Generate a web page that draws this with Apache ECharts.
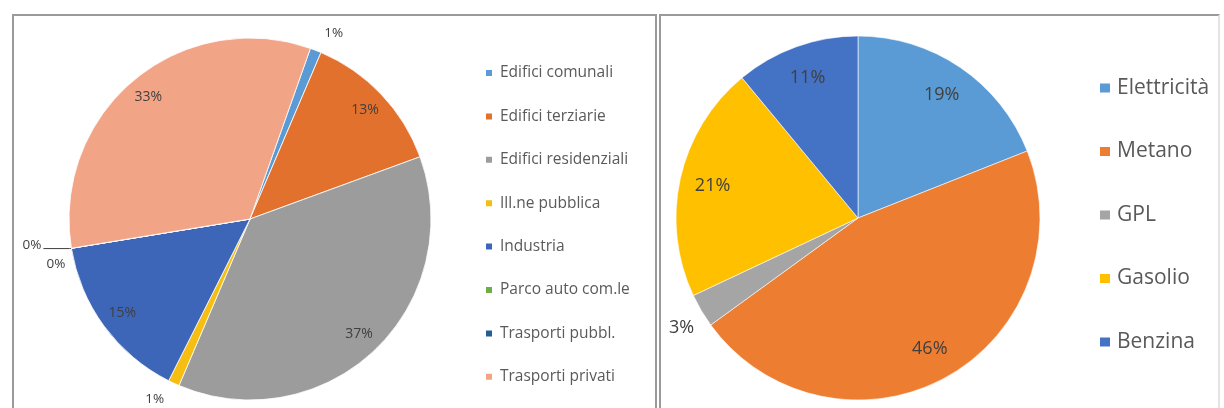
<!DOCTYPE html>
<html>
<head>
<meta charset="utf-8">
<script src="https://cdn.jsdelivr.net/npm/echarts@6/dist/echarts.min.js"></script>
<style>
  html, body { margin: 0; padding: 0; background: #fff; }
  #wrap { position: relative; width: 1224px; height: 408px; overflow: hidden; }
  .frame { position: absolute; box-sizing: border-box; border: 2px solid #9a9a9a; }
  #f1 { left: 12px; top: 14px; width: 645px; height: 440px; }
  #f2 { left: 659px; top: 14px; width: 561px; height: 440px; border-right-color: #e4e4e4; }
  #c1 { position: absolute; left: 0; top: 0; width: 656px; height: 408px; }
  #c2 { position: absolute; left: 661px; top: 0; width: 563px; height: 408px; }
</style>
</head>
<body>
<div id="wrap">
  <div class="frame" id="f1"></div>
  <div class="frame" id="f2"></div>
  <div id="c1"></div>
  <div id="c2"></div>
</div>
<script>
// Consumi per settore (%)
const sectorNames = ['Edifici comunali', 'Edifici terziarie', 'Edifici residenziali', 'Ill.ne pubblica',
                     'Industria', 'Parco auto com.le', 'Trasporti pubbl.', 'Trasporti privati'];
const sectorValues = [1, 13, 37, 1, 15, 0, 0, 33];

// Consumi per vettore energetico (%)
const fuelNames = ['Elettricità', 'Metano', 'GPL', 'Gasolio', 'Benzina'];
const fuelValues = [19, 46, 3, 21, 11];

const sectorColors = ['#5B9BD5', '#E2712D', '#9C9C9C', '#F5BE10', '#3D66B9', '#70AD47', '#255E91', '#F2A586'];
const fuelColors = ['#5B9BD5', '#ED7D31', '#A5A5A5', '#FFC000', '#4472C4'];

const FONT = '"Open Sans", Lato, sans-serif';
const LABEL_COLOR = '#404040';

// Slices whose label sits outside the pie, with their leader-line settings
const sectorOutside = {
  'Edifici comunali':  { length: 18, length2: 0, line: false },
  'Ill.ne pubblica':   { length: 18, length2: 0, line: false },
  'Parco auto com.le': { length: 2, length2: 26, line: true, dy: -3 },
  'Trasporti pubbl.':  { length: 4, length2: 0, line: false, dy: 15 }
};
const fuelOutside = {
  'GPL': { length: 6, length2: 0, line: false, dy: 14 }
};

function pieData(names, values, colors, outside) {
  return names.map((name, i) => {
    const o = outside[name];
    return {
      name: name,
      value: values[i],
      itemStyle: { color: colors[i] },
      label: { show: !!o, position: 'outside' },
      labelLine: o ? { show: o.line, length: o.length, length2: o.length2, smooth: false } : { show: false }
    };
  });
}

function ringData(names, values, outside) {
  return names.map((name, i) => ({
    name: name,
    value: values[i],
    label: { show: !outside[name] }
  }));
}

function nudge(names, outside) {
  return function (params) {
    const o = outside[names[params.dataIndex]];
    if (o && o.dy) return { dy: o.dy };
    return {};
  };
}

// ---- Grafico per settore ----
const chart1 = echarts.init(document.getElementById('c1'), null, { renderer: 'canvas' });
chart1.setOption({
  animation: false,
  textStyle: { fontFamily: FONT },
  legend: {
    orient: 'vertical',
    left: 484,
    top: 63,
    padding: 0,
    itemGap: 23.4,
    itemWidth: 8,
    itemHeight: 8,
    icon: 'rect',
    selectedMode: false,
    data: sectorNames,
    textStyle: { fontFamily: FONT, fontSize: 15.5, color: '#5a5a5a', lineHeight: 20, padding: [0, 0, 0, 2] }
  },
  series: [
    {
      type: 'pie',
      center: [250, 219],
      radius: [0, 181],
      startAngle: 70.5,
      clockwise: true,
      avoidLabelOverlap: false,
      silent: true,
      itemStyle: { borderColor: '#ffffff', borderWidth: 0.8 },
      label: { formatter: '{c}%', fontFamily: FONT, fontSize: 13.5, color: LABEL_COLOR, distanceToLabelLine: 2 },
      labelLine: { lineStyle: { color: '#404040', width: 1 } },
      labelLayout: nudge(sectorNames, sectorOutside),
      data: pieData(sectorNames, sectorValues, sectorColors, sectorOutside)
    },
    {
      // ring used only to carry the in-slice labels near the rim
      type: 'pie',
      center: [250, 219],
      radius: [130, 181],
      startAngle: 70.5,
      clockwise: true,
      silent: true,
      itemStyle: { color: 'rgba(0,0,0,0)' },
      label: { position: 'inside', formatter: '{c}%', fontFamily: FONT, fontSize: 14, color: LABEL_COLOR },
      labelLine: { show: false },
      data: ringData(sectorNames, sectorValues, sectorOutside)
    }
  ]
});

// ---- Grafico per vettore ----
const chart2 = echarts.init(document.getElementById('c2'), null, { renderer: 'canvas' });
chart2.setOption({
  animation: false,
  textStyle: { fontFamily: FONT },
  legend: {
    orient: 'vertical',
    left: 437,
    top: 75,
    padding: 0,
    itemGap: 37.5,
    itemWidth: 12,
    itemHeight: 11,
    icon: 'rect',
    selectedMode: false,
    data: fuelNames,
    textStyle: { fontFamily: FONT, fontSize: 21, color: '#595959', lineHeight: 26, padding: [0, 0, 0, 1] }
  },
  series: [
    {
      type: 'pie',
      center: [197, 218],
      radius: [0, 182],
      startAngle: 90,
      clockwise: true,
      avoidLabelOverlap: false,
      silent: true,
      itemStyle: { borderColor: '#ffffff', borderWidth: 0.6 },
      label: { formatter: '{c}%', fontFamily: FONT, fontSize: 18, color: LABEL_COLOR, distanceToLabelLine: 2 },
      labelLayout: nudge(fuelNames, fuelOutside),
      data: pieData(fuelNames, fuelValues, fuelColors, fuelOutside)
    },
    {
      type: 'pie',
      center: [197, 218],
      radius: [110, 182],
      startAngle: 90,
      clockwise: true,
      silent: true,
      itemStyle: { color: 'rgba(0,0,0,0)' },
      label: { position: 'inside', formatter: '{c}%', fontFamily: FONT, fontSize: 18, color: LABEL_COLOR },
      labelLine: { show: false },
      data: ringData(fuelNames, fuelValues, fuelOutside)
    }
  ]
});
</script>
</body>
</html>
